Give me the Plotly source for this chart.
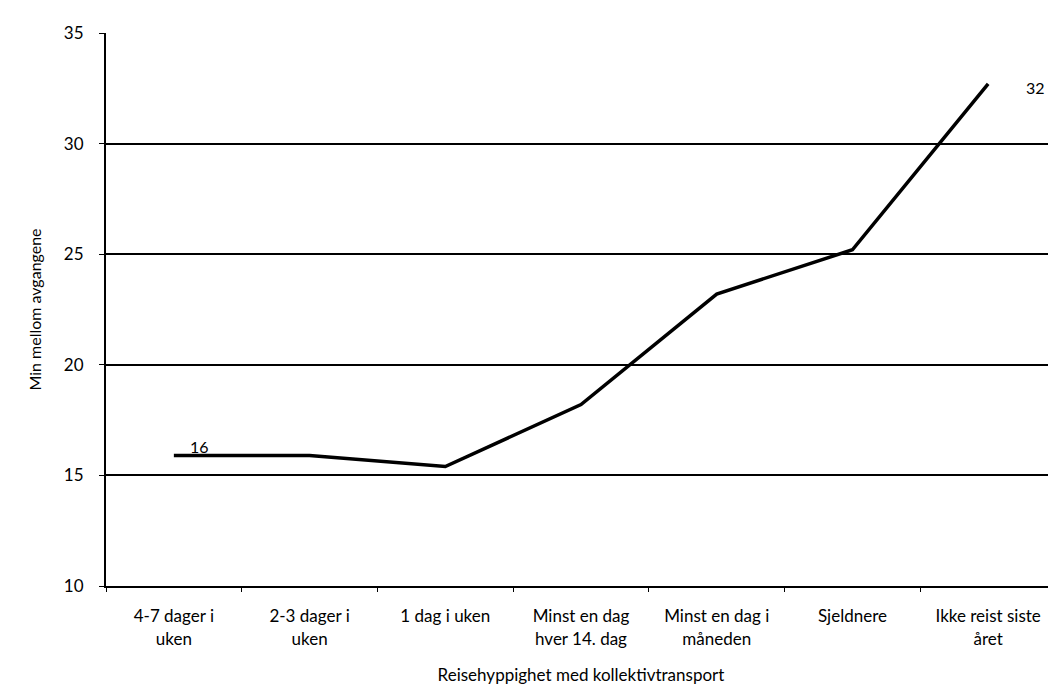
import plotly.graph_objects as go

categories = ["4-7 dager i<br>uken", "2-3 dager i<br>uken", "1 dag i uken",
              "Minst en dag<br>hver 14. dag", "Minst en dag i<br>måneden",
              "Sjeldnere", "Ikke reist siste<br>året"]
values = [15.9, 15.9, 15.4, 18.2, 23.2, 25.2, 32.7]
label_text = ["16", "", "", "", "", "", "32"]
y_ticks = [10, 15, 20, 25, 30, 35]

fig = go.Figure()
fig.add_trace(go.Scatter(
    x=categories, y=values, mode="lines",
    line=dict(color="black", width=3.5), showlegend=False,
))

# data labels
fig.add_annotation(x=categories[0], y=values[0], text=label_text[0], showarrow=False,
                   xanchor="left", yanchor="middle", xshift=14, yshift=9,
                   font=dict(size=16, color="black"))
fig.add_annotation(x=categories[6], y=values[6], text=label_text[6], showarrow=False,
                   xanchor="left", yanchor="middle", xshift=36, yshift=-4,
                   font=dict(size=16, color="black"))

# page body has an 8px margin; compensate so the plot sits where the reference has it
fig.update_layout(
    width=1048, height=679,
    margin=dict(l=98, r=0, t=25, b=101),
    plot_bgcolor="white", paper_bgcolor="white",
    font=dict(family="Lato, Open Sans, sans-serif", color="black", size=16),
    xaxis=dict(
        type="category", categoryorder="array", categoryarray=categories,
        range=[-0.5, 6.5],
        tickson="boundaries", ticks="outside", ticklen=4, tickcolor="black",
        showgrid=False, showline=True, linecolor="black", linewidth=2,
        zeroline=False, tickfont=dict(size=17), ticklabelstandoff=14,
        automargin=False,
        title=dict(text="Reisehyppighet med kollektivtransport", font=dict(size=17), standoff=22),
    ),
    yaxis=dict(
        range=[10, 35], tickmode="array", tickvals=y_ticks,
        showgrid=True, gridcolor="black", gridwidth=1.8,
        showline=True, linecolor="black", linewidth=2, zeroline=False,
        ticks="outside", ticklen=5, tickcolor="black",
        tickfont=dict(size=17), ticklabelstandoff=12,
        automargin=False,
        title=dict(text="Min mellom avgangene", font=dict(size=16), standoff=18),
    ),
)

fig.write_html("out.html")
